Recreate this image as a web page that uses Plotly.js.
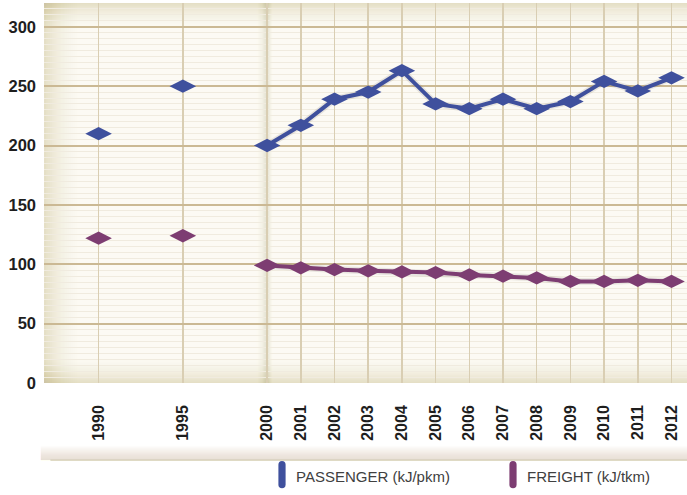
<!DOCTYPE html>
<html>
<head>
<meta charset="utf-8">
<script src="https://cdn.plot.ly/plotly-3.0.1.min.js"></script>
<style>
html,body{margin:0;padding:0;background:#ffffff;}
#chart{width:687px;height:495px;}
</style>
</head>
<body>
<div id="chart"></div>
<script>
// ---- data ----
var years = [1990, 1995, 2000, 2001, 2002, 2003, 2004, 2005, 2006, 2007, 2008, 2009, 2010, 2011, 2012];
var passenger = [210, 250, 200, 217, 239, 245, 263, 235, 231, 239, 231, 237, 254, 246, 257];
var freight = [122, 124, 99, 97, 95.5, 94.5, 93.5, 93, 91, 90, 88.5, 85.5, 85.5, 86.5, 85.5];
var yTicks = [0, 50, 100, 150, 200, 250, 300];
var seriesNames = ['PASSENGER (kJ/pkm)', 'FREIGHT (kJ/tkm)'];

// axis slot: years before 2000 are drawn on a compressed (half) scale
function slot(y) { return y >= 2000 ? y - 2000 : (y - 2000) / 2; }

var colors = ['#3f509d', '#7d3d72'];
var allSeries = [passenger, freight];
var traces = [];
allSeries.forEach(function (vals, si) {
  var ex = [], ey = [], lx = [], ly = [];
  years.forEach(function (yr, i) {
    if (yr < 2000) { ex.push(slot(yr)); ey.push(vals[i]); }
    else { lx.push(slot(yr)); ly.push(vals[i]); }
  });
  // soft shadow under the line
  traces.push({x: lx, y: ly, mode: 'lines', type: 'scatter', hoverinfo: 'skip', showlegend: false,
    line: {color: 'rgba(90,80,70,0.12)', width: 7}});
  traces.push({x: ex, y: ey, mode: 'markers', type: 'scatter', name: seriesNames[si], showlegend: false,
    marker: {symbol: 'diamond-wide', size: 19, color: colors[si], line: {width: 0}}});
  traces.push({x: lx, y: ly, mode: 'lines+markers', type: 'scatter', name: seriesNames[si], showlegend: false,
    line: {color: colors[si], width: 4},
    marker: {symbol: 'diamond-wide', size: 19, color: colors[si], line: {width: 0}}});
});

// background shading shapes (vignette-like)
var shapes = [];
var N = 20;
for (var k = 0; k < N; k++) {
  var a = 0.03 * (1 - k / N);
  shapes.push({type: 'rect', xref: 'paper', yref: 'paper', x0: 0, x1: 1, y0: 1 - 0.07 * (k + 1) / N, y1: 1,
    fillcolor: 'rgba(190,170,120,' + a + ')', line: {width: 0}, layer: 'below'});
  shapes.push({type: 'rect', xref: 'paper', yref: 'paper', x0: 0, x1: 1, y0: 0, y1: 0.07 * (k + 1) / N,
    fillcolor: 'rgba(190,170,120,' + a + ')', line: {width: 0}, layer: 'below'});
  shapes.push({type: 'rect', xref: 'paper', yref: 'paper', x0: 0, x1: 0.06 * (k + 1) / N, y0: 0, y1: 1,
    fillcolor: 'rgba(190,170,120,' + a + ')', line: {width: 0}, layer: 'below'});
  shapes.push({type: 'rect', xref: 'x', yref: 'paper', x0: -0.35 * (k + 1) / N, x1: 0.2 * (k + 1) / N, y0: 0, y1: 1,
    fillcolor: 'rgba(150,135,110,' + (a * 0.8) + ')', line: {width: 0}, layer: 'below'});
}
// shadow band under tick labels
var bandTop = -0.165, bandBot = -0.203;
for (var j = 0; j < 12; j++) {
  shapes.push({type: 'rect', xref: 'paper', yref: 'paper', x0: -0.005, x1: 1,
    y0: bandBot, y1: bandTop - (bandTop - bandBot) * j / 12,
    fillcolor: 'rgba(205,195,170,0.045)', line: {width: 0}, layer: 'below'});
}
shapes.push({type: 'line', xref: 'paper', yref: 'paper', x0: 0.01, x1: 1, y0: bandBot, y1: bandBot,
  line: {color: 'rgba(185,172,140,0.45)', width: 1.5}, layer: 'below'});

// legend markers (rounded vertical bars)
function pill(xc, color) {
  var w = 0.0056, t = -0.205, b = -0.277, r = 0.01;
  var p = 'M ' + (xc - w) + ' ' + (t - r) + ' Q ' + (xc - w) + ' ' + t + ' ' + xc + ' ' + t +
          ' Q ' + (xc + w) + ' ' + t + ' ' + (xc + w) + ' ' + (t - r) +
          ' L ' + (xc + w) + ' ' + (b + r) + ' Q ' + (xc + w) + ' ' + b + ' ' + xc + ' ' + b +
          ' Q ' + (xc - w) + ' ' + b + ' ' + (xc - w) + ' ' + (b + r) + ' Z';
  return {type: 'path', xref: 'paper', yref: 'paper', path: p, fillcolor: color, line: {width: 0}};
}
function px2paper(px) { return (px - 44) / 643; }
shapes.push(pill(px2paper(282), colors[0]));
shapes.push(pill(px2paper(513), colors[1]));

var legFont = {family: 'Liberation Sans, Arial, sans-serif', size: 15, color: '#404040'};
var annotations = [
  {xref: 'paper', yref: 'paper', x: px2paper(294), y: -0.247, xanchor: 'left', yanchor: 'middle', showarrow: false,
   text: seriesNames[0], font: legFont},
  {xref: 'paper', yref: 'paper', x: px2paper(525), y: -0.247, xanchor: 'left', yanchor: 'middle', showarrow: false,
   text: seriesNames[1], font: legFont}
];

var layout = {
  width: 687, height: 495,
  margin: {l: 44, r: 0, t: 3, b: 112},
  paper_bgcolor: '#ffffff',
  plot_bgcolor: '#fcfaf4',
  showlegend: false,
  xaxis: {
    type: 'linear',
    range: [-6.62, 12.46],
    tickvals: years.map(slot),
    ticktext: years.map(String),
    tickangle: -90,
    ticks: '',
    ticklabelstandoff: 18,
    tickfont: {family: 'Liberation Sans, Arial, sans-serif', size: 16, color: '#1e1e1e', weight: 'bold'},
    showgrid: true, gridcolor: '#d9ceb3', gridwidth: 1.5,
    zeroline: false, showline: false, fixedrange: true
  },
  yaxis: {
    range: [0, 320],
    tickvals: yTicks,
    ticks: '',
    ticklabelstandoff: 7,
    tickfont: {family: 'Liberation Sans, Arial, sans-serif', size: 16.5, color: '#1e1e1e', weight: 'bold'},
    showgrid: true, gridcolor: '#cbb994', gridwidth: 2,
    minor: {dtick: 5, showgrid: true, gridcolor: '#f0ebdf', gridwidth: 1},
    zeroline: false, showline: false, fixedrange: true
  },
  shapes: shapes,
  annotations: annotations
};

Plotly.newPlot('chart', traces, layout, {displayModeBar: false, staticPlot: true});
</script>
</body>
</html>
